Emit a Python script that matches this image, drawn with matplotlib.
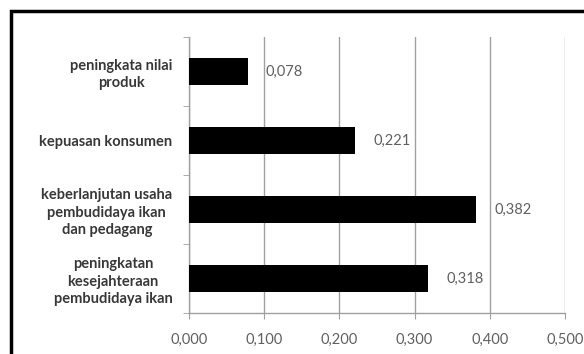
import numpy as np
import matplotlib.pyplot as plt
from matplotlib.patches import Rectangle

# data, bottom to top
categories = [
    "peningkatan\nkesejahteraan\npembudidaya ikan",
    "keberlanjutan usaha\npembudidaya ikan\ndan pedagang",
    "kepuasan konsumen",
    "peningkata nilai\nproduk",
]
values = [0.318, 0.382, 0.221, 0.078]
xticks = [0.0, 0.1, 0.2, 0.3, 0.4, 0.5]


def fmt(v):
    return "{:.3f}".format(v).replace(".", ",")


plt.rcParams['font.family'] = ['Lato', 'DejaVu Sans']

fig = plt.figure(figsize=(5.84, 3.54), dpi=100)
ax = fig.add_axes([0.3236, 0.1158, 0.6439, 0.7797])

y = np.arange(len(categories))
ax.barh(y, values, height=0.4, color="black", zorder=3)

for yi, v in zip(y, values):
    ax.annotate(fmt(v), (v, yi), xytext=(13, 0), textcoords="offset points",
                ha="left", va="center", fontsize=10.5, color="#606060")

ax.set_xlim(0, 0.5)
ax.set_ylim(-0.5, len(categories) - 0.5)
ax.set_xticks(xticks)
ax.set_xticklabels([fmt(t) for t in xticks], fontsize=10.5, color="#606060")
ax.xaxis.grid(True, color="#a0a0a0", linewidth=1.0, zorder=0)

ax.set_yticks(y)
ax.set_yticklabels(categories, fontsize=10.5, fontweight="bold", color="#383838")
for lab in ax.get_yticklabels():
    lab.set_multialignment("center")
    lab.set_linespacing(1.3)
ax.set_yticks(np.arange(-0.5, len(categories)), minor=True)
ax.tick_params(axis="y", which="major", length=0, pad=12)
ax.tick_params(axis="y", which="minor", length=4, color="#a0a0a0", direction="out")
ax.tick_params(axis="x", length=4, color="#a0a0a0", pad=10)

for s in ["top", "right"]:
    ax.spines[s].set_visible(False)
for s in ["left", "bottom"]:
    ax.spines[s].set_color("#a0a0a0")
    ax.spines[s].set_linewidth(1.0)

# outer chart border
fig.patches.append(Rectangle((11 / 584, -0.05), 1.0, 1 - 11 / 354 + 0.05,
                             transform=fig.transFigure, fill=False,
                             edgecolor="black", linewidth=2.5))

fig.savefig("out.png", dpi=100)
